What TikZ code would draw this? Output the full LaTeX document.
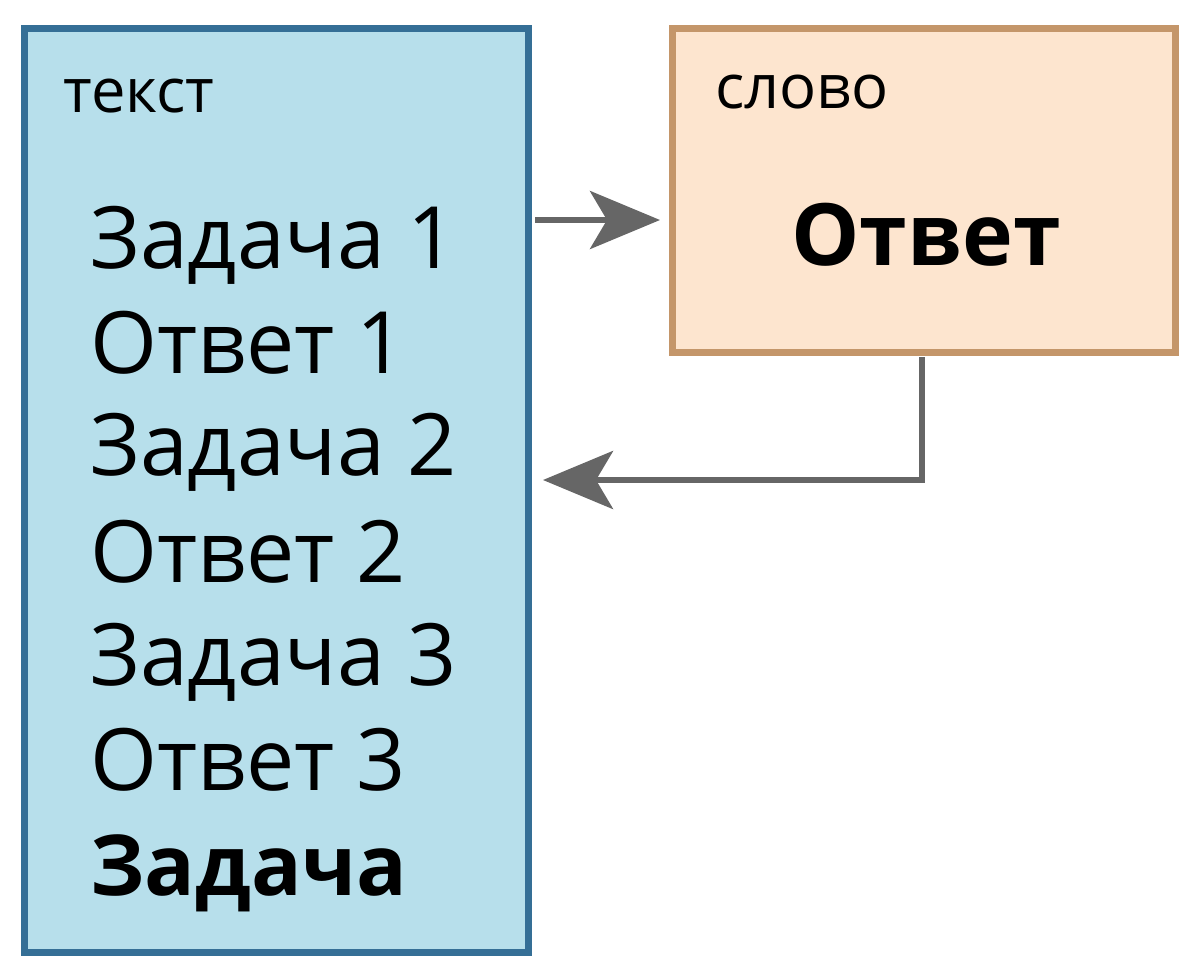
\documentclass[tikz,border=0pt]{standalone}
\usepackage{fontspec}
\setmainfont{Open Sans}
\usetikzlibrary{arrows.meta}
\definecolor{bluefill}{HTML}{B7DFEB}
\definecolor{blueline}{HTML}{356F96}
\definecolor{orfill}{HTML}{FDE5CF}
\definecolor{orline}{HTML}{C4966A}
\definecolor{arrgray}{HTML}{666666}
\tikzset{
  panel/.style={draw, line width=7pt, inner sep=0pt, outer sep=0pt, rectangle},
  item/.style={anchor=base west, inner sep=0pt, font=\fontsize{86}{100}\selectfont},
  small/.style={anchor=base west, inner sep=0pt, font=\fontsize{61.5}{70}\selectfont},
  arr/.style={draw=arrgray, line width=6pt, -{Stealth[length=70pt, width=58pt, inset=17pt]}}
}
\begin{document}
\begin{tikzpicture}[x=1pt,y=-1pt]
\useasboundingbox (0,0) rectangle (1200,970);
\node[panel, fill=bluefill, draw=blueline, minimum width=504pt, minimum height=924pt] (left) at (276,490) {};
\node[panel, fill=orfill, draw=orline, minimum width=503pt, minimum height=324pt] (right) at (923.5,190) {};
\node[small] (t0) at (63,112) {текст};
\node[small] (s0) at (715,108) {слово};
\node[anchor=base, inner sep=0pt, font=\fontsize{86}{100}\selectfont\bfseries] (ans) at (926,265) {Ответ};
\node[item] (l1) at (90,268) {Задача 1};
\node[item] (l2) at (90,373) {Ответ 1};
\node[item] (l3) at (90,475) {Задача 2};
\node[item] (l4) at (90,582) {Ответ 2};
\node[item] (l5) at (90,685) {Задача 3};
\node[item] (l6) at (90,790) {Ответ 3};
\node[item, font=\fontsize{84}{100}\selectfont\bfseries] (l7) at (90,895) {Задача};
\coordinate (a1) at (535,220);
\coordinate (b1) at (660,220);
\draw[arr] (a1) -- (b1);
\coordinate (c1) at (922,357);
\coordinate (c2) at (922,480);
\coordinate (c3) at (543,480);
\draw[arr] (c1) -- (c2) -- (c3);
\end{tikzpicture}
\end{document}
